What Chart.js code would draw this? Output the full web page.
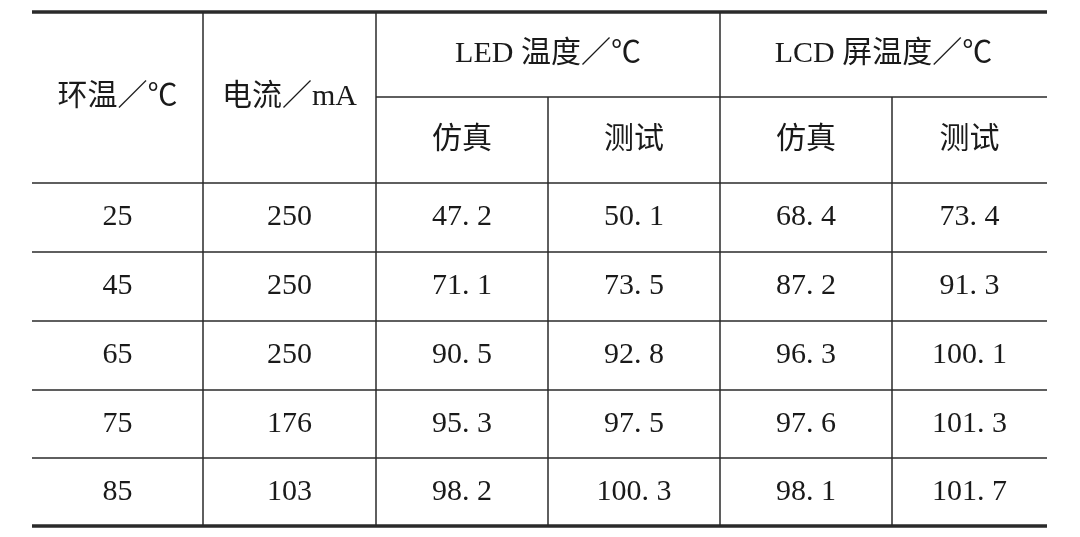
<!DOCTYPE html>
<html>
<head>
<meta charset="utf-8">
<script src="https://cdn.jsdelivr.net/npm/chart.js@4"></script>
<style>
  html, body { margin: 0; padding: 0; background: #fff; }
  #wrap { width: 1080px; height: 537px; }
</style>
</head>
<body>
<div id="wrap"><canvas id="table"></canvas></div>
<script>
const ambientTemps = [25, 45, 65, 75, 85];
const currents = [250, 250, 250, 176, 103];
const ledSim = [47.2, 71.1, 90.5, 95.3, 98.2];
const ledTest = [50.1, 73.5, 92.8, 97.5, 100.3];
const lcdSim = [68.4, 87.2, 96.3, 97.6, 98.1];
const lcdTest = [73.4, 91.3, 100.1, 101.3, 101.7];

const groupHeaders = ['LED 温度／℃', 'LCD 屏温度／℃'];
const rowHeaders = ['环温／℃', '电流／mA'];
const subHeaders = ['仿真', '测试', '仿真', '测试'];

// cell edges in scale units
const colEdges = [0, 171, 344, 516, 688, 860, 1015];
const rowEdges = [0, 85, 171, 240, 309, 378, 446, 514];

const fmt = v => v.toFixed(1).replace('.', '. ');

const tablePlugin = {
    id: 'tableDraw',
    afterDraw(chart) {
        const ctx = chart.ctx;
        const xs = chart.scales.x, ys = chart.scales.y;
        const X = v => xs.getPixelForValue(v);
        const Y = v => ys.getPixelForValue(v);
        const L = X(colEdges[0]), R = X(colEdges[6]);

        ctx.save();
        ctx.strokeStyle = '#2a2a2a';
        const hline = (y, x1, x2, w) => {
            ctx.lineWidth = w; ctx.beginPath();
            ctx.moveTo(x1, y); ctx.lineTo(x2, y); ctx.stroke();
        };
        const vline = (x, y1, y2) => {
            ctx.lineWidth = 1.5; ctx.beginPath();
            ctx.moveTo(x, y1); ctx.lineTo(x, y2); ctx.stroke();
        };
        hline(Y(rowEdges[0]), L, R, 3.5);
        hline(Y(rowEdges[7]), L, R, 3.5);
        hline(Y(rowEdges[1]), X(colEdges[2]), R, 1.5);
        for (let i = 2; i < 7; i++) hline(Y(rowEdges[i]), L, R, 1.5);
        [1, 2, 4].forEach(c => vline(X(colEdges[c]), Y(rowEdges[0]), Y(rowEdges[7])));
        [3, 5].forEach(c => vline(X(colEdges[c]), Y(rowEdges[1]), Y(rowEdges[7])));

        ctx.fillStyle = '#1a1a1a';
        ctx.textAlign = 'center';
        ctx.textBaseline = 'middle';
        ctx.font = '30px "Liberation Serif", "Noto Sans CJK SC", serif';
        const cx = c => (X(colEdges[c]) + X(colEdges[c + 1])) / 2;
        const cy = r => (Y(rowEdges[r]) + Y(rowEdges[r + 1])) / 2;

        rowHeaders.forEach((t, i) => ctx.fillText(t, cx(i), Y((rowEdges[0] + rowEdges[2]) / 2)));
        groupHeaders.forEach((t, i) => {
            const a = colEdges[2 + i * 2], b = colEdges[4 + i * 2];
            ctx.fillText(t, (X(a) + X(b)) / 2, cy(0));
        });
        subHeaders.forEach((t, i) => ctx.fillText(t, cx(2 + i), cy(1)));

        const cols = [ambientTemps.map(String), currents.map(String),
            ledSim.map(fmt), ledTest.map(fmt), lcdSim.map(fmt), lcdTest.map(fmt)];
        cols.forEach((col, c) => col.forEach((t, r) => ctx.fillText(t, cx(c), cy(r + 2))));
        ctx.restore();
    }
};

new Chart(document.getElementById('table'), {
    type: 'scatter',
    data: { datasets: [{ data: [] }] },
    options: {
        responsive: true,
        maintainAspectRatio: false,
        animation: false,
        layout: { padding: { left: 32, right: 33, top: 12, bottom: 11 } },
        plugins: { legend: { display: false }, tooltip: { enabled: false } },
        scales: {
            x: { type: 'linear', min: 0, max: 1015, display: false },
            y: { type: 'linear', min: 0, max: 514, reverse: true, display: false }
        }
    },
    plugins: [tablePlugin]
});
</script>
</body>
</html>
